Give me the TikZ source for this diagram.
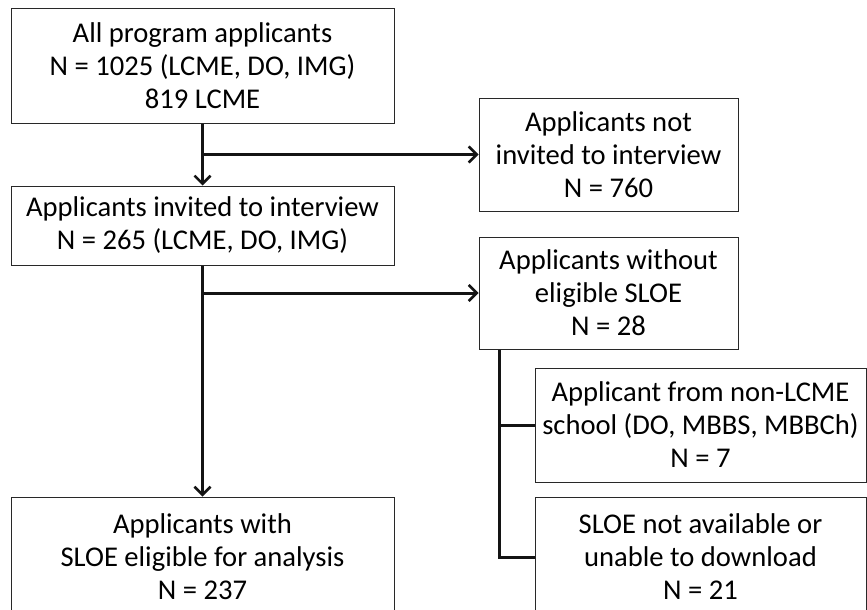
\documentclass[tikz,border=0pt]{standalone}
\usepackage{fontspec}
\setmainfont{Carlito}
\usetikzlibrary{arrows.meta,calc}
\definecolor{BoxClr}{RGB}{40,40,40}
\definecolor{LineClr}{RGB}{20,20,20}

\begin{document}
\begin{tikzpicture}[x=1pt,y=-1pt,
  box/.style={draw=BoxClr,line width=1pt,inner sep=0pt,align=center,
    font=\fontsize{28.6}{33}\selectfont},
  flow/.style={draw=LineClr,line width=3pt,-{Straight Barb[length=8pt,width=16pt,line width=2.5pt]}},
  trunk/.style={draw=LineClr,line width=3pt}]
\useasboundingbox (0,0) rectangle (867,610);
\clip (0,0) rectangle (867,610);

\node[box,minimum width=383pt,minimum height=114pt] (All) at (202.5,66)
  {All program applicants\\N = 1025 (LCME, DO, IMG)\\819 LCME};
\node[box,minimum width=383pt,minimum height=79pt] (Invited) at (202.5,225.5)
  {Applicants invited to interview\\N = 265 (LCME, DO, IMG)};
\node[box,minimum width=383pt,minimum height=120pt] (Eligible) at (202.5,557)
  {Applicants with\\SLOE eligible for analysis\\N = 237};

\node[box,minimum width=259pt,minimum height=113pt] (NotInv) at (608.5,154.5)
  {Applicants not\\invited to interview\\N = 760};
\node[box,minimum width=259pt,minimum height=112pt] (NoSLOE) at (608.5,293)
  {Applicants without\\eligible SLOE\\N = 28};

\node[box,minimum width=331pt,minimum height=114pt] (NonLCME) at (700.5,425)
  {Applicant from non-LCME\\school (DO, MBBS, MBBCh)\\N = 7};
\node[box,minimum width=331pt,minimum height=120pt] (NoDL) at (700.5,557)
  {SLOE not available or\\unable to download\\N = 21};

% main line
\draw[flow] (All.south) -- (Invited.north);
\draw[flow] (All.south |- NotInv.west) -- (NotInv.west);
\draw[flow] (Invited.south) -- (Eligible.north);
\draw[flow] (Invited.south |- NoSLOE.west) -- (NoSLOE.west);

% exclusions
\coordinate (Split) at ($(NoSLOE.south west)+(21,0)$);
\draw[trunk] (Split) |- (NonLCME.west);
\draw[trunk] (Split) |- (NoDL.west);

\end{tikzpicture}
\end{document}
